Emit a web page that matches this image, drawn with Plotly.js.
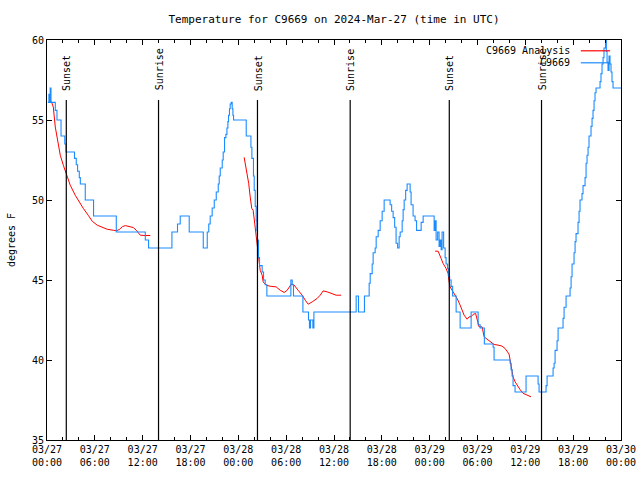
<!DOCTYPE html>
<html>
<head>
<meta charset="utf-8">
<script src="https://cdn.plot.ly/plotly-3.0.1.min.js"></script>
<style>html,body{margin:0;padding:0;background:#fff;}#chart{width:640px;height:480px;}</style>
</head>
<body>
<div id="chart"></div>
<script>
// Hours since 2024-03-27 00:00 UTC
var obsHours = [0.10,0.24,0.31,0.40,0.50,1.04,1.25,1.76,2.23,2.38,3.45,3.67,3.84,4.05,4.18,4.80,5.84,8.69,12.33,12.74,15.67,16.37,16.71,17.84,19.60,20.10,20.29,20.47,20.72,20.98,21.23,21.48,21.60,21.73,21.98,22.10,22.27,22.44,22.57,22.69,22.77,22.89,22.98,23.11,23.23,23.32,23.40,24.99,25.58,25.70,25.90,25.99,26.12,26.24,26.33,26.40,26.53,26.66,26.99,27.16,27.37,27.58,30.59,30.76,30.92,32.10,32.80,32.92,33.05,33.35,33.48,38.78,39.07,39.82,40.41,40.54,40.79,40.91,41.16,41.29,41.54,41.79,42.04,42.29,43.04,43.23,43.42,43.61,43.79,43.98,44.17,44.30,44.55,44.67,44.80,44.99,45.17,45.55,45.67,45.92,46.17,46.36,46.93,47.18,48.56,48.68,48.81,49.00,49.18,49.31,49.44,49.56,49.75,49.94,50.06,50.25,50.38,50.50,50.69,50.88,51.32,51.82,53.20,54.08,54.33,54.86,55.96,56.08,58.09,58.21,58.34,58.46,58.71,60.09,61.60,61.72,62.60,62.73,63.48,63.61,63.73,63.98,64.11,64.73,64.86,65.11,65.61,65.74,65.86,66.11,66.24,66.36,66.61,66.74,66.86,67.11,67.24,67.49,67.62,67.74,67.87,67.99,68.24,68.37,68.49,68.62,68.74,68.87,69.37,69.49,69.62,69.75,69.87,70.06,70.16,70.25,70.37,70.50,70.62,70.75,70.87,71.00,72.00];
var obsTemps = [56.1,56.6,56.1,57.0,56.1,55.6,55.0,54.0,53.5,53.0,52.6,52.2,51.8,51.4,51.0,50.0,49.0,48.0,47.5,47.0,48.0,48.5,49.0,48.0,47.0,48.0,48.5,49.0,49.5,50.0,50.5,51.0,51.5,52.0,52.5,53.0,53.9,54.1,54.5,54.9,55.3,55.7,56.0,56.1,55.7,55.3,55.0,54.0,53.3,52.6,51.5,50.6,49.6,48.7,48.1,47.5,46.4,45.9,45.5,45.0,44.7,44.0,45.0,44.7,44.0,43.0,42.5,42.0,42.5,42.0,43.0,44.0,43.0,44.0,44.8,45.4,46.0,46.7,47.0,47.7,48.1,48.7,49.3,50.0,49.7,49.3,48.9,48.3,47.3,47.0,47.7,48.0,48.7,49.4,50.0,50.6,51.0,50.5,49.7,49.0,48.7,48.1,48.6,49.0,48.1,48.7,47.5,48.0,47.1,47.5,46.9,48.0,47.0,46.4,46.0,45.7,45.2,45.0,44.6,44.0,43.0,42.0,43.0,42.2,42.0,41.0,40.8,40.0,39.8,39.4,39.0,38.4,38.0,39.0,38.5,38.0,38.4,39.0,39.5,39.8,40.6,41.2,42.0,42.6,43.3,44.0,44.5,45.2,46.0,46.7,47.4,47.9,48.6,49.3,50.0,50.4,50.9,51.4,52.3,52.8,53.3,54.0,54.6,55.1,55.6,56.2,56.7,57.0,57.4,57.9,58.5,58.9,59.5,60.0,59.3,58.6,58.1,59.0,58.5,58.0,57.4,57.0,57.0];

// Analysis series (null separates the three runs)
var anaHours = [0.54,0.79,1.04,1.42,1.67,2.05,2.42,2.92,3.55,4.05,4.55,5.18,5.68,6.31,6.81,7.56,8.31,8.69,9.06,9.44,9.82,10.32,10.82,11.20,11.70,12.32,12.95,null,
 24.73,25.05,25.30,25.49,25.68,25.86,26.05,26.24,26.37,26.49,26.62,26.74,26.99,27.12,27.49,27.99,28.75,29.25,29.75,30.13,30.63,31.00,31.50,32.01,32.39,32.76,33.26,33.89,34.27,34.64,35.14,35.77,36.27,36.90,null,
 48.68,49.06,49.44,49.69,50.06,50.31,50.44,50.56,50.81,51.06,51.44,51.82,52.07,52.32,52.70,52.95,53.20,53.45,53.76,53.95,54.20,54.58,54.83,55.20,55.58,56.08,56.58,57.08,57.46,57.71,57.96,58.09,58.21,58.34,58.46,58.71,58.96,59.33,59.71,60.21,60.71];
var anaTemps = [56.16,55.81,54.56,53.31,52.79,52.17,51.67,50.92,50.29,49.86,49.48,49.04,48.67,48.42,48.30,48.17,48.11,48.08,48.15,48.33,48.40,48.36,48.28,48.11,47.80,47.78,47.78,null,
 52.67,51.85,51.04,50.19,49.48,49.36,48.55,47.80,47.17,46.44,45.92,45.61,45.30,44.88,44.68,44.61,44.57,44.36,44.22,44.36,44.74,44.68,44.36,44.05,43.74,43.49,43.63,43.85,44.05,44.32,44.26,44.16,44.05,44.05,null,
 46.80,46.80,46.34,46.03,45.72,45.41,44.88,44.57,44.36,44.16,43.85,43.43,43.16,42.80,42.55,42.70,42.70,42.85,42.91,42.49,42.07,42.07,41.45,41.30,41.14,40.97,40.93,40.87,40.72,40.57,40.37,39.99,39.58,39.16,38.95,38.64,38.43,38.16,37.92,37.81,37.70];

var eventHours = [2.42,13.99,26.40,38.03,50.46,62.03];
var eventNames = ["Sunset","Sunrise","Sunset","Sunrise","Sunset","Sunrise"];

var stationName = "C9669";
var analysisName = "C9669 Analysis";
var titleText = "Temperature for C9669 on 2024-Mar-27 (time in UTC)";
var yTitle = "degrees F";

var BASE = Date.UTC(2024, 2, 27, 0, 0, 0);
function toDate(h) {
  if (h === null) return null;
  return new Date(BASE + h * 3600000).toISOString().slice(0, 19).replace('T', ' ');
}

var FONT = "DejaVu Sans Mono, Liberation Mono, monospace";
var BLUE = "#1a8cff";
var RED = "#ff0000";

var traces = [
  {
    x: anaHours.map(toDate), y: anaTemps, type: 'scatter', mode: 'lines',
    name: analysisName, line: {color: RED, width: 1}, connectgaps: false, showlegend: false
  },
  {
    x: obsHours.map(toDate), y: obsTemps, type: 'scatter', mode: 'lines',
    name: stationName, line: {color: BLUE, width: 1.1, shape: 'hv'}, showlegend: false
  }
];

var shapes = [];
var annotations = [];
eventHours.forEach(function (h, i) {
  shapes.push({type: 'line', xref: 'x', yref: 'y', x0: toDate(h), x1: toDate(h), y0: 35, y1: 56.25,
    line: {color: '#000', width: 1.2}, layer: 'above'});
  annotations.push({xref: 'x', yref: 'y', x: toDate(h), y: 56.7, text: eventNames[i], textangle: -90,
    showarrow: false, xanchor: 'center', yanchor: 'bottom', xshift: 1,
    font: {family: FONT, size: 10, color: '#000'}});
});

// legend (text on the left, sample line on the right)
var legendRows = [{name: analysisName, color: RED, y: 0.973}, {name: stationName, color: BLUE, y: 0.943}];
legendRows.forEach(function (r) {
  annotations.push({xref: 'paper', yref: 'paper', x: 0.915, y: r.y, text: r.name, showarrow: false,
    xanchor: 'right', yanchor: 'middle', font: {family: FONT, size: 10, color: '#000'}});
  shapes.push({type: 'line', xref: 'paper', yref: 'paper', x0: 0.930, x1: 0.981, y0: r.y, y1: r.y,
    line: {color: r.color, width: 1.2}});
});

var layout = {
  width: 640, height: 480,
  margin: {l: 47, r: 19, t: 40, b: 40},
  paper_bgcolor: '#fff', plot_bgcolor: '#fff',
  font: {family: FONT, size: 10, color: '#000'},
  title: {text: titleText, x: 0.5, xref: 'paper', y: 0.96, yref: 'container', yanchor: 'middle',
    font: {family: FONT, size: 11, color: '#000'}},
  xaxis: {
    type: 'date', range: [toDate(0), toDate(72)],
    dtick: 21600000, tick0: toDate(0), tickformat: '%m/%d<br>%H:%M',
    ticks: 'inside', ticklen: 5, tickcolor: '#000', tickwidth: 1,
    minor: {dtick: 7200000, ticks: 'inside', ticklen: 3, tickcolor: '#000'},
    showgrid: false, zeroline: false,
    showline: true, linecolor: '#000', linewidth: 1, mirror: 'allticks',
    tickfont: {family: FONT, size: 10, color: '#000'}
  },
  yaxis: {
    range: [35, 60], dtick: 5, tick0: 35,
    ticks: 'inside', ticklen: 5, tickcolor: '#000', tickwidth: 1,
    showgrid: false, zeroline: false,
    showline: true, linecolor: '#000', linewidth: 1, mirror: 'allticks',
    tickfont: {family: FONT, size: 10, color: '#000'},
    title: {text: yTitle, standoff: 14, font: {family: FONT, size: 10, color: '#000'}}
  },
  shapes: shapes,
  annotations: annotations,
  showlegend: false
};

Plotly.newPlot('chart', traces, layout, {staticPlot: true, displayModeBar: false});
</script>
</body>
</html>
